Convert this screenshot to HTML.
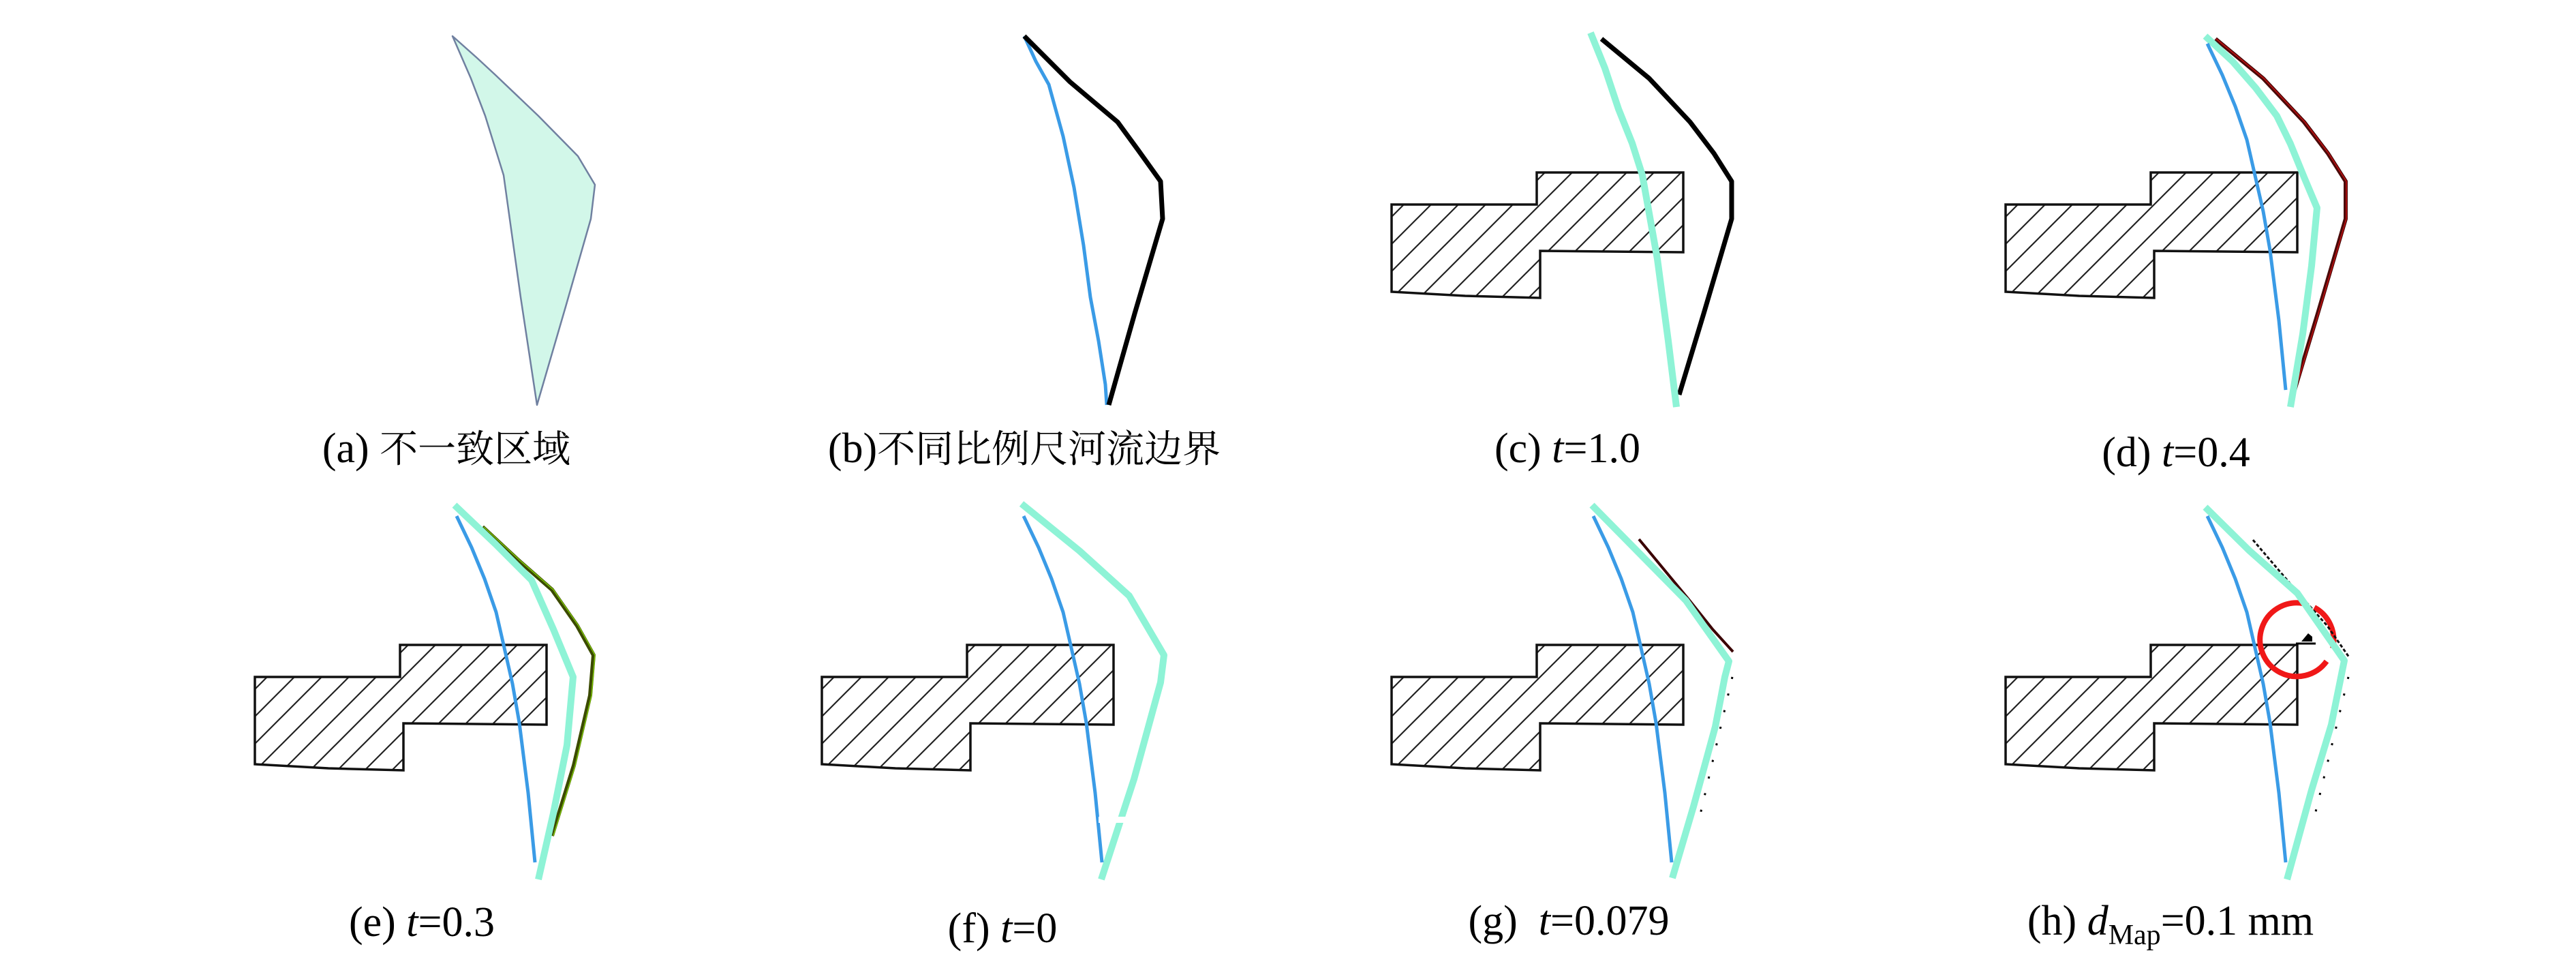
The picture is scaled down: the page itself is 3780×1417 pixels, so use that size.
<!DOCTYPE html>
<html><head><meta charset="utf-8"><style>
html,body{margin:0;padding:0;background:#fff;}
svg{display:block;}
text{font-family:"Liberation Serif","Noto Serif CJK SC",serif;fill:#000;}
</style></head><body>
<svg width="3780" height="1417" viewBox="0 0 3780 1417" xmlns="http://www.w3.org/2000/svg">
<defs>
<pattern id="h" patternUnits="userSpaceOnUse" width="40" height="40">
<path d="M-5,45 L45,-5 M-45,45 L5,-5 M35,45 L85,-5" stroke="#222" stroke-width="2.2"/>
</pattern>
<g id="bld">
<path d="M2042,300 L2255,300 L2255,253 L2470,253 L2470,370 L2260,368 L2260,437 L2150,434 L2042,428 Z" fill="url(#h)" stroke="#111" stroke-width="3.5" stroke-linejoin="miter"/>
</g>
<polyline id="blue" points="2338,64 2360,110 2379,156 2396,205 2407,253 2420,310 2430,367 2443,470 2453,572" fill="none" stroke="#3a9be6" stroke-width="5" stroke-linejoin="round"/>
</defs>

<!-- (a) -->
<polygon points="664,53 700,85 727,110 790,170 848,229 873,271 867,321 830,450 788,594 764,436 739,257 712,170 691,115" fill="#d2f7e9" stroke="#7080a0" stroke-width="2.5" stroke-linejoin="round"/>

<!-- (b) -->
<polyline points="1503,53 1520,90 1539,124 1560,200 1576,275 1590,360 1600,436 1612,500 1622,564 1624,594" fill="none" stroke="#3a9be6" stroke-width="5"/>
<polyline points="1503,53 1570,120 1640,179 1670,220 1703,266 1706,321 1665,460 1627,594" fill="none" stroke="#000" stroke-width="7" stroke-linejoin="round"/>

<!-- (c) -->
<g>
<use href="#bld"/>
<polyline points="2350,57 2420,115 2480,179 2515,225 2541,266 2541,321 2500,460 2464,579" fill="none" stroke="#000" stroke-width="7" stroke-linejoin="round"/>
<polyline points="2334,48 2355,100 2375,160 2395,210 2410,257 2432,380 2448,500 2460,597" fill="none" stroke="#8ef3d6" stroke-width="10" stroke-linejoin="round"/>
</g>

<!-- (d) -->
<g transform="translate(901,0)">
<use href="#bld"/>
<polyline points="2350,57 2420,115 2480,179 2515,225 2541,266 2541,321 2500,460 2464,579" fill="none" stroke="#4a0a0a" stroke-width="6" stroke-linejoin="round"/>
<polyline points="2350,57 2420,115 2480,179 2515,225 2541,266 2541,321 2500,460 2464,579" fill="none" stroke="#c21010" stroke-width="1.5" stroke-linejoin="round" transform="translate(1,0)"/>
<polyline points="2335,53 2375,90 2409,129 2440,170 2460,211 2480,260 2499,305 2491,390 2478,490 2460,597" fill="none" stroke="#8ef3d6" stroke-width="10" stroke-linejoin="round"/>
<use href="#blue"/>
</g>

<!-- (e) -->
<g transform="translate(-1668,693)">
<use href="#bld"/>
<polyline points="2376,80 2430,130 2478,172 2515,225 2539,268 2534,327 2510,430 2478,533" fill="none" stroke="#3b4a00" stroke-width="6" stroke-linejoin="round"/>
<polyline points="2378,80 2432,130 2480,172 2517,225 2541,268 2536,327 2512,430 2480,533" fill="none" stroke="#7ac000" stroke-width="1.5" stroke-linejoin="round"/>
<polyline points="2335,48 2395,105 2448,158 2480,230 2509,300 2500,400 2480,500 2458,597" fill="none" stroke="#8ef3d6" stroke-width="10" stroke-linejoin="round"/>
<use href="#blue"/>
</g>

<!-- (f) -->
<g transform="translate(-836,693)">
<use href="#bld"/>
<polyline points="2335,46 2420,115 2493,181 2544,268 2539,308 2500,450 2452,597" fill="none" stroke="#8ef3d6" stroke-width="10" stroke-linejoin="round"/>
<use href="#blue"/>
<rect x="2448" y="505" width="46" height="9" fill="#fff"/>
</g>

<!-- (g) -->
<g transform="translate(0,693)">
<use href="#bld"/>
<polyline points="2405,98 2477,185 2513,230 2543,263" fill="none" stroke="#3a0000" stroke-width="4" stroke-linejoin="round"/>
<polyline points="2542,300 2493,510" fill="none" stroke="#000" stroke-width="3" stroke-dasharray="3,22"/>
<polyline points="2336,48 2405,118 2474,188 2537,277 2531,300 2517,373 2485,490 2454,595" fill="none" stroke="#8ef3d6" stroke-width="10" stroke-linejoin="round"/>
<use href="#blue"/>
</g>

<!-- (h) -->
<g transform="translate(901,693)">
<use href="#bld"/>
<path d="M2478,192 A54,54 0 1 0 2513,277" fill="none" stroke="#f01818" stroke-width="8"/>
<path d="M2495,198 A54,54 0 0 1 2522,258" fill="none" stroke="#f01818" stroke-width="8"/>
<polyline points="2405,99 2474,180 2514,225 2546,271" fill="none" stroke="#111" stroke-width="3" stroke-dasharray="5,3"/>
<polyline points="2545,300 2494,510" fill="none" stroke="#000" stroke-width="3" stroke-dasharray="3,22"/>
<polyline points="2335,51 2400,115 2470,177 2539,276 2520,370 2491,466 2455,597" fill="none" stroke="#8ef3d6" stroke-width="10" stroke-linejoin="round"/>
<use href="#blue"/>
<line x1="2468" y1="251" x2="2497" y2="251" stroke="#000" stroke-width="3"/>
<polygon points="2476,248 2486,236 2492,241 2492,248" fill="#000"/>
</g>

<!-- labels -->
<g font-size="62">
<text x="655" y="678" text-anchor="middle">(a) <tspan font-size="56">不一致区域</tspan></text>
<text x="1503" y="678" text-anchor="middle">(b)<tspan font-size="56">不同比例尺河流边界</tspan></text>
<text x="2300" y="678" text-anchor="middle">(c) <tspan font-style="italic">t</tspan>=1.0</text>
<text x="3193" y="684" text-anchor="middle">(d) <tspan font-style="italic">t</tspan>=0.4</text>
<text x="619" y="1373" text-anchor="middle">(e) <tspan font-style="italic">t</tspan>=0.3</text>
<text x="1471" y="1382" text-anchor="middle">(f) <tspan font-style="italic">t</tspan>=0</text>
<text x="2302" y="1371" text-anchor="middle" xml:space="preserve">(g)  <tspan font-style="italic">t</tspan>=0.079</text>
<text x="3185" y="1371" text-anchor="middle">(h) <tspan font-style="italic">d</tspan><tspan font-size="42" dy="14">Map</tspan><tspan dy="-14">=0.1 mm</tspan></text>
</g>
</svg>
</body></html>
